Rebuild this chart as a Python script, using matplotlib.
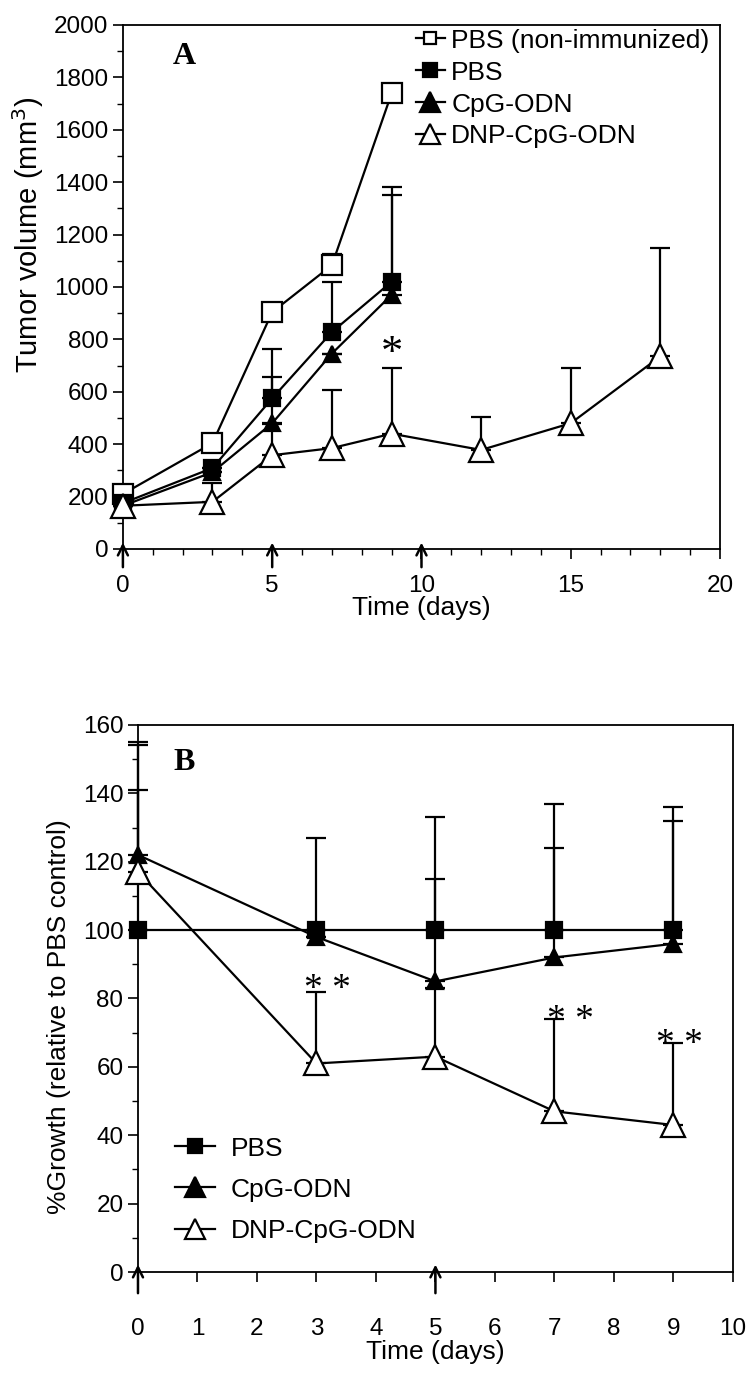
import numpy as np
import matplotlib
matplotlib.use("Agg")
import matplotlib.pyplot as plt
from matplotlib.ticker import MultipleLocator

plt.rcParams['font.family'] = ['Liberation Sans', 'DejaVu Sans']

# --- Panel A: tumor volume (mm^3) ---
days_nonimm = [0, 3, 5, 7, 9]
vol_nonimm = [210, 404, 904, 1083, 1739]
err_nonimm = [0, 0, 0, 42, 0]

days_pbs = [0, 3, 5, 7, 9]
vol_pbs = [175, 309, 575, 828, 1020]
err_pbs = [0, 0, 187, 190, 360]

days_cpg = [0, 3, 5, 7, 9]
vol_cpg = [165, 293, 480, 746, 970]
err_cpg = [0, 0, 176, 0, 380]

days_dnp = [0, 3, 5, 7, 9, 12, 15, 18]
vol_dnp = [165, 180, 358, 385, 440, 378, 480, 735]
err_dnp = [0, 70, 120, 221, 250, 125, 210, 415]

inject_a = [0, 5, 10]

# --- Panel B: % growth relative to PBS control ---
days_b = [0, 3, 5, 7, 9]
grow_pbs = [100, 100, 100, 100, 100]
gerr_pbs = [41, 27, 33, 37, 36]
grow_cpg = [122, 98, 85, 92, 96]
gerr_cpg = [33, 0, 30, 32, 36]
grow_dnp = [117, 61, 63, 47, 43]
gerr_dnp = [37, 21, 20, 27, 24]

inject_b = [0, 5]

fig = plt.figure(figsize=(7.54, 13.78), dpi=100)
axA = fig.add_axes([0.163, 0.6016, 0.792, 0.3803])
axB = fig.add_axes([0.183, 0.0769, 0.789, 0.397])

lw = 1.6


def series(ax, x, y, err, marker, face, ms, label):
    ax.errorbar(x, y, yerr=[np.zeros(len(err)), err], fmt='none',
                ecolor='black', elinewidth=lw, capsize=7, capthick=lw,
                clip_on=False, zorder=2)
    ax.plot(x, y, color='black', lw=lw, marker=marker, markersize=ms,
            markerfacecolor=face, markeredgecolor='black', markeredgewidth=lw,
            label=label, clip_on=False, zorder=3)


def style_axes(ax):
    for s in ax.spines.values():
        s.set_linewidth(1.3)
    ax.tick_params(which='major', direction='out', length=7, width=1.2,
                   labelsize=17.5)
    ax.tick_params(which='minor', direction='out', length=4, width=1.0)


# Panel A
series(axA, days_nonimm, vol_nonimm, err_nonimm, 's', 'white', 15,
       'PBS (non-immunized)')
series(axA, days_pbs, vol_pbs, err_pbs, 's', 'black', 12, 'PBS')
series(axA, days_cpg, vol_cpg, err_cpg, '^', 'black', 12, 'CpG-ODN')
series(axA, days_dnp, vol_dnp, err_dnp, '^', 'white', 17, 'DNP-CpG-ODN')

axA.set_xlim(0, 20)
axA.set_ylim(0, 2000)
axA.xaxis.set_major_locator(MultipleLocator(5))
axA.xaxis.set_minor_locator(MultipleLocator(1))
axA.yaxis.set_major_locator(MultipleLocator(200))
axA.yaxis.set_minor_locator(MultipleLocator(100))
style_axes(axA)
axA.tick_params(axis='x', which='major', pad=12)
axA.set_xlabel('Time (days)', fontsize=19, labelpad=-1)
axA.set_ylabel('Tumor volume (mm$^3$)', fontsize=21)
axA.yaxis.set_label_coords(-0.128, 0.60)
axA.text(0.084, 0.968, 'A', transform=axA.transAxes, fontsize=23,
         fontweight='bold', family='Liberation Serif', va='top')
axA.text(9, 745, '*', fontsize=32, family='Liberation Serif',
         ha='center', va='center')
for d in inject_a:
    axA.annotate('', xy=(d, 35), xytext=(d, -80),
                 arrowprops=dict(arrowstyle='->', lw=1.8, color='black',
                                 mutation_scale=18),
                 annotation_clip=False)
legA = axA.legend(loc='upper right', frameon=False, fontsize=19,
                  handlelength=1.1, handletextpad=0.25, labelspacing=0.3,
                  borderaxespad=0.0, bbox_to_anchor=(1.0, 1.013))
for h, s in zip(legA.legend_handles, [9, 10, 14, 14]):
    h.set_markersize(s)

# Panel B
series(axB, days_b, grow_pbs, gerr_pbs, 's', 'black', 12, 'PBS')
series(axB, days_b, grow_cpg, gerr_cpg, '^', 'black', 12, 'CpG-ODN')
series(axB, days_b, grow_dnp, gerr_dnp, '^', 'white', 17, 'DNP-CpG-ODN')

axB.set_xlim(0, 10)
axB.set_ylim(0, 160)
axB.xaxis.set_major_locator(MultipleLocator(1))
axB.yaxis.set_major_locator(MultipleLocator(20))
axB.yaxis.set_minor_locator(MultipleLocator(10))
style_axes(axB)
axB.tick_params(axis='x', which='major', pad=26)
axB.set_xlabel('Time (days)', fontsize=19, labelpad=0)
axB.set_ylabel('%Growth (relative to PBS control)', fontsize=19)
axB.yaxis.set_label_coords(-0.113, 0.466)
axB.text(0.06, 0.958, 'B', transform=axB.transAxes, fontsize=23,
         fontweight='bold', family='Liberation Serif', va='top')
for x, y in [(3.19, 82.5), (7.27, 73.5), (9.1, 66.5)]:
    axB.text(x, y, '* *', fontsize=27, family='Liberation Serif',
             ha='center', va='center')
for d in inject_b:
    axB.annotate('', xy=(d, 3), xytext=(d, -7),
                 arrowprops=dict(arrowstyle='->', lw=1.8, color='black',
                                 mutation_scale=18),
                 annotation_clip=False)
legB = axB.legend(loc='lower left', frameon=False, fontsize=19,
                  handlelength=1.5, handletextpad=0.6, labelspacing=0.65,
                  borderaxespad=0.0, bbox_to_anchor=(0.045, 0.034))
for h, s in zip(legB.legend_handles, [10, 14, 14]):
    h.set_markersize(s)

fig.savefig('out.png', dpi=100)
